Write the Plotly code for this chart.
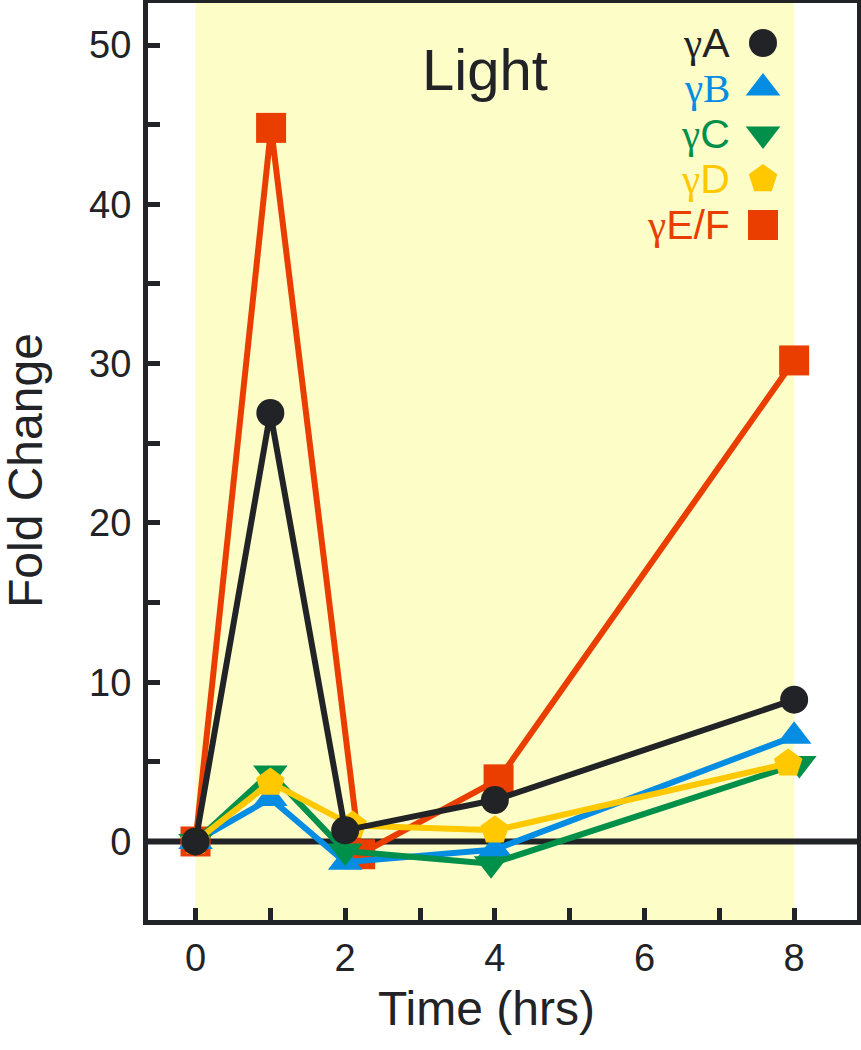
import plotly.graph_objects as go

# ---------------- data ----------------
series_names = ["γA", "γB", "γC", "γD", "γE/F"]
x_A = [0, 1, 2, 4, 8]
y_A = [0, 26.9, 0.7, 2.6, 8.9]
x_B = [0, 1, 2, 4, 8]
y_B = [0, 2.7, -1.3, -0.5, 6.6]
x_C = [0, 1, 2, 3.95, 8.07]
y_C = [0, 4.3, -0.6, -1.4, 4.9]
x_D = [0, 1, 2.1, 4, 7.92]
y_D = [0, 3.7, 1.0, 0.7, 4.9]
x_EF = [0, 1.01, 2.2, 4.05, 8]
y_EF = [0, 44.8, -0.8, 3.9, 30.2]

x_tick_vals = [0, 1, 2, 3, 4, 5, 6, 7, 8]
x_tick_text = ["0", "", "2", "", "4", "", "6", "", "8"]
y_tick_vals = [0, 5, 10, 15, 20, 25, 30, 35, 40, 45, 50]
y_tick_text = ["0", "", "10", "", "20", "", "30", "", "40", "", "50"]

light_start, light_end = 0, 8

# ---------------- styles ----------------
INK = "#222326"
colors = {"γA": INK, "γB": "#058CE3", "γC": "#00904A", "γD": "#FFC800", "γE/F": "#EA3E00"}
symbols = {"γA": "circle", "γB": "triangle-up", "γC": "triangle-down", "γD": "pentagon", "γE/F": "square"}
sizes = {"γA": 28, "γB": 30, "γC": 30, "γD": 30, "γE/F": 30}
FONT = "Liberation Sans, Arial, sans-serif"

data = {"γA": (x_A, y_A), "γB": (x_B, y_B), "γC": (x_C, y_C), "γD": (x_D, y_D), "γE/F": (x_EF, y_EF)}
draw_order = ["γE/F", "γB", "γC", "γD", "γA"]

fig = go.Figure()
for name in draw_order:
    xs, ys = data[name]
    fig.add_trace(go.Scatter(
        x=xs, y=ys, mode="lines+markers", name=name,
        line=dict(color=colors[name], width=6),
        marker=dict(symbol=symbols[name], size=sizes[name], color=colors[name],
                    opacity=1, line=dict(width=0)),
        showlegend=False, cliponaxis=False,
    ))

# ---------------- custom legend (text then symbol) ----------------
W, H = 861, 1050
ML, MR, MT, MB = 148, 4, 3, 130
PW, PH = W - ML - MR, H - MT - MB

def px_x(p):
    return (p - ML) / PW

def px_y(p):
    return 1 - (p - MT) / PH

legend_y_px = [43, 88, 134, 179, 225]
legend_text_x = px_x(732)
legend_mark_x = px_x(763)

fig.add_trace(go.Scatter(
    x=[legend_mark_x] * len(series_names),
    y=[px_y(v) for v in legend_y_px],
    mode="markers", xaxis="x2", yaxis="y2", showlegend=False, cliponaxis=False,
    marker=dict(symbol=[symbols[n] for n in series_names],
                size=[sizes[n] for n in series_names], opacity=1,
                color=[colors[n] for n in series_names], line=dict(width=0)),
    hoverinfo="skip",
))

annotations = []
serif_letter = {"γB": True}
for name, ypx in zip(series_names, legend_y_px):
    rest = name[1:]
    if serif_letter.get(name):
        label = '<span style="font-family:Liberation Serif">γ' + rest + '</span>'
    else:
        label = '<span style="font-family:Liberation Serif">γ</span>' + rest
    annotations.append(dict(
        x=legend_text_x, y=px_y(ypx), xref="paper", yref="paper",
        xanchor="right", yanchor="middle", showarrow=False, text=label,
        font=dict(family=FONT, size=41, color=colors[name]),
    ))

annotations.append(dict(
    x=px_x(485), y=px_y(70), xref="paper", yref="paper", xanchor="center", yanchor="middle",
    showarrow=False, text="Light", font=dict(family=FONT, size=58, color=INK),
))
annotations.append(dict(
    x=px_x(486), y=px_y(1008), xref="paper", yref="paper", xanchor="center", yanchor="middle",
    showarrow=False, text="Time (hrs)", font=dict(family=FONT, size=48, color=INK),
))
annotations.append(dict(
    x=px_x(25), y=px_y(471), xref="paper", yref="paper", xanchor="center", yanchor="middle",
    showarrow=False, text="Fold Change", textangle=-90, font=dict(family=FONT, size=48, color=INK),
))

shapes = [
    dict(type="rect", xref="x", yref="paper", x0=light_start, x1=light_end, y0=0, y1=1,
         fillcolor="#FDFDC8", line=dict(width=0), layer="below"),
    dict(type="line", xref="paper", yref="y", x0=0, x1=1, y0=0, y1=0,
         line=dict(color=INK, width=6), layer="below"),
]

axis_common = dict(showgrid=False, zeroline=False, showline=True, mirror=True, automargin=False,
                   linecolor=INK, linewidth=5, ticks="inside", tickcolor=INK,
                   tickwidth=5, ticklen=12, tickfont=dict(family=FONT, size=38, color=INK))

fig.update_layout(
    width=W, height=H, margin=dict(l=ML, r=MR, t=MT, b=MB, autoexpand=False),
    paper_bgcolor="white", plot_bgcolor="white",
    xaxis=dict(range=[-0.635, 8.84], tickmode="array", tickvals=x_tick_vals,
               ticktext=x_tick_text, ticklabelstandoff=0, **axis_common),
    yaxis=dict(range=[-4.93, 52.64], tickmode="array", tickvals=y_tick_vals,
               ticktext=y_tick_text, ticklabelstandoff=4, **axis_common),
    xaxis2=dict(overlaying="x", range=[0, 1], visible=False),
    yaxis2=dict(overlaying="y", range=[0, 1], visible=False),
    shapes=shapes, annotations=annotations, showlegend=False,
)

fig.write_html("out.html", config={"displayModeBar": False},
               post_script="document.body.style.margin='0';document.body.style.overflow='hidden';")
